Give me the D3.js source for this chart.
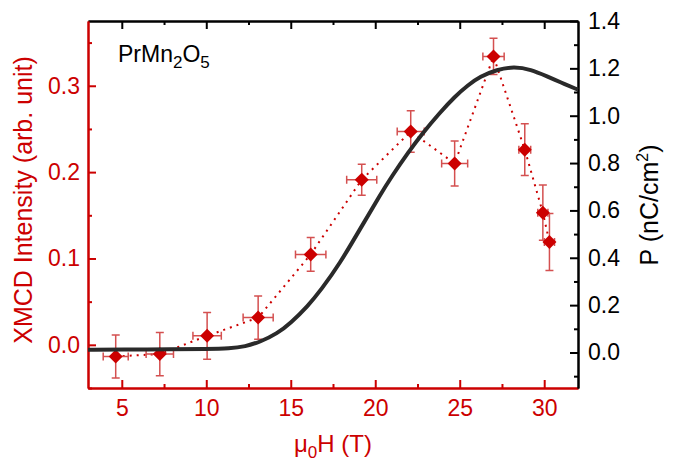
<!DOCTYPE html>
<html>
<head>
<meta charset="utf-8">
<script src="https://cdn.jsdelivr.net/npm/d3@7"></script>
<style>
    body { margin: 0; background: #fff; }
    text { font-family: Arial, "Liberation Sans", sans-serif; }
</style>
</head>
<body>
<div id="chart"></div>
<script>
// XMCD points (left axis)
const field = [4.64, 7.25, 10.05, 13.07, 16.18, 19.2, 22.1, 24.7, 27.0, 28.85, 29.92, 30.31];
const fieldErr = [0.74, 0.81, 0.84, 0.89, 0.9, 0.89, 0.8, 0.77, 0.63, 0.35, 0.3, 0.3];
const xmcd = [-0.0135, -0.0107, 0.0104, 0.0315, 0.1047, 0.1912, 0.247, 0.210, 0.334, 0.226, 0.153, 0.119];
const xmcdErr = [0.025, 0.025, 0.027, 0.025, 0.0196, 0.018, 0.024, 0.026, 0.021, 0.03, 0.032, 0.033];

// polarization curve (right axis)
const curveField = [3, 5, 8, 10, 11.4, 12.3, 13.2, 14.2, 15.0, 16.0, 16.8, 17.9, 19.1, 20.3, 21.0, 21.9, 22.8, 23.8, 24.7, 25.5, 26.2, 27.2, 28.2, 29.2, 30.2, 31.0, 32];
const curveP = [0.012, 0.012, 0.014, 0.015, 0.017, 0.025, 0.045, 0.08, 0.125, 0.195, 0.265, 0.375, 0.521, 0.667, 0.746, 0.84, 0.926, 1.011, 1.08, 1.13, 1.165, 1.195, 1.207, 1.196, 1.165, 1.14, 1.11];

const xTicks = [5, 10, 15, 20, 25, 30];
const xMinor = [7.5, 12.5, 17.5, 22.5, 27.5];
const yTicks = [0, 0.1, 0.2, 0.3];
const yMinor = [-0.05, 0.05, 0.15, 0.25, 0.35];
const pTicks = [0, 0.2, 0.4, 0.6, 0.8, 1.0, 1.2, 1.4];
const pMinor = [-0.1, 0.1, 0.3, 0.5, 0.7, 0.9, 1.1, 1.3];

const width = 684, height = 462;
const margin = { top: 21, right: 106, bottom: 74, left: 88 };
const red = "#cc0000";
const errRed = "#d45050";

const svg = d3.select("#chart").append("svg")
    .attr("width", width)
    .attr("height", height);

const x = d3.scaleLinear().domain([3, 32]).range([margin.left, width - margin.right]);
const y = d3.scaleLinear().domain([-0.05, 0.375]).range([height - margin.bottom, margin.top]);
const yP = d3.scaleLinear().domain([-0.15, 1.4]).range([height - margin.bottom, margin.top]);

const points = field.map((f, i) => ({ f, fe: fieldErr[i], v: xmcd[i], ve: xmcdErr[i] }));

// axes
function styleAxis(g, color) {
    g.select(".domain").attr("stroke", color).attr("stroke-width", 2);
    g.selectAll(".tick line").attr("stroke", color).attr("stroke-width", 2);
    g.selectAll(".tick text").attr("fill", color).attr("font-size", "23px");
}

svg.append("g")
    .attr("transform", `translate(0,${height - margin.bottom})`)
    .call(d3.axisBottom(x).tickValues(xMinor).tickSize(-4).tickSizeOuter(0).tickFormat(""))
    .call(g => styleAxis(g, red));
svg.append("g")
    .attr("transform", `translate(0,${height - margin.bottom})`)
    .call(d3.axisBottom(x).tickValues(xTicks).tickSize(-8).tickSizeOuter(0).tickPadding(12))
    .call(g => styleAxis(g, red));

svg.append("g")
    .attr("transform", `translate(0,${margin.top})`)
    .call(d3.axisTop(x).tickValues(xMinor).tickSize(-4).tickSizeOuter(0).tickFormat(""))
    .call(g => styleAxis(g, "#000"));
svg.append("g")
    .attr("transform", `translate(0,${margin.top})`)
    .call(d3.axisTop(x).tickValues(xTicks).tickSize(-8).tickSizeOuter(0).tickFormat(""))
    .call(g => styleAxis(g, "#000"));

svg.append("g")
    .attr("transform", `translate(${width - margin.right},0)`)
    .call(d3.axisRight(yP).tickValues(pMinor).tickSize(-4).tickSizeOuter(0).tickFormat(""))
    .call(g => styleAxis(g, "#000"));
svg.append("g")
    .attr("transform", `translate(${width - margin.right},0)`)
    .call(d3.axisRight(yP).tickValues(pTicks).tickSize(-8).tickSizeOuter(0).tickPadding(10).tickFormat(d3.format(".1f")))
    .call(g => styleAxis(g, "#000"));

svg.append("g")
    .attr("transform", `translate(${margin.left},0)`)
    .call(d3.axisLeft(y).tickValues(yMinor).tickSize(-4).tickSizeOuter(0).tickFormat(""))
    .call(g => styleAxis(g, red));
svg.append("g")
    .attr("transform", `translate(${margin.left},0)`)
    .call(d3.axisLeft(y).tickValues(yTicks).tickSize(-8).tickSizeOuter(0).tickPadding(8).tickFormat(d3.format(".1f")))
    .call(g => styleAxis(g, red));

// dotted connecting line
svg.append("path")
    .datum(points)
    .attr("fill", "none")
    .attr("stroke", red)
    .attr("stroke-width", 2)
    .attr("stroke-dasharray", "2,5")
    .attr("d", d3.line().x(d => x(d.f)).y(d => y(d.v)));

// error bars
const err = svg.append("g")
    .attr("stroke", errRed)
    .attr("stroke-width", 1.5)
    .attr("fill", "none");
const cap = 4;
err.selectAll("path")
    .data(points)
    .join("path")
    .attr("d", d => {
        const cx = x(d.f), cy = y(d.v);
        const y0 = y(d.v - d.ve), y1 = y(d.v + d.ve);
        const x0 = x(d.f - d.fe), x1 = x(d.f + d.fe);
        return `M${cx},${y0}V${y1}M${cx - cap},${y0}H${cx + cap}M${cx - cap},${y1}H${cx + cap}` +
            `M${x0},${cy}H${x1}M${x0},${cy - cap}V${cy + cap}M${x1},${cy - cap}V${cy + cap}`;
    });

// diamonds
svg.append("g")
    .attr("fill", red)
    .selectAll("path")
    .data(points)
    .join("path")
    .attr("transform", d => `translate(${x(d.f)},${y(d.v)})`)
    .attr("d", d3.symbol(d3.symbolDiamond2, 125));

// polarization curve
svg.append("path")
    .datum(curveField.map((f, i) => [f, curveP[i]]))
    .attr("fill", "none")
    .attr("stroke", "#2a2a2a")
    .attr("stroke-width", 4)
    .attr("stroke-linejoin", "round")
    .attr("d", d3.line().x(d => x(d[0])).y(d => yP(d[1])).curve(d3.curveBasis));

// labels
svg.append("text")
    .attr("transform", "translate(32,200) rotate(-90)")
    .attr("text-anchor", "middle")
    .attr("fill", red)
    .attr("font-size", "25px")
    .text("XMCD Intensity (arb. unit)");

const pLabel = svg.append("text")
    .attr("transform", "translate(658,205) rotate(-90)")
    .attr("text-anchor", "middle")
    .attr("fill", "#000")
    .attr("font-size", "25px");
pLabel.append("tspan").text("P (nC/cm");
pLabel.append("tspan").attr("font-size", "16px").attr("dy", -10).text("2");
pLabel.append("tspan").attr("dy", 10).text(")");

const xLabel = svg.append("text")
    .attr("x", (margin.left + width - margin.right) / 2)
    .attr("y", 452)
    .attr("text-anchor", "middle")
    .attr("fill", red)
    .attr("font-size", "24px");
xLabel.append("tspan").text("\u03bc");
xLabel.append("tspan").attr("font-size", "17px").attr("dy", 6).text("0");
xLabel.append("tspan").attr("dy", -6).text("H (T)");

const title = svg.append("text")
    .attr("x", 118)
    .attr("y", 62)
    .attr("fill", "#000")
    .attr("font-size", "23px");
title.append("tspan").text("PrMn");
title.append("tspan").attr("font-size", "17px").attr("dy", 6).text("2");
title.append("tspan").attr("dy", -6).text("O");
title.append("tspan").attr("font-size", "17px").attr("dy", 6).text("5");
</script>
</body>
</html>
